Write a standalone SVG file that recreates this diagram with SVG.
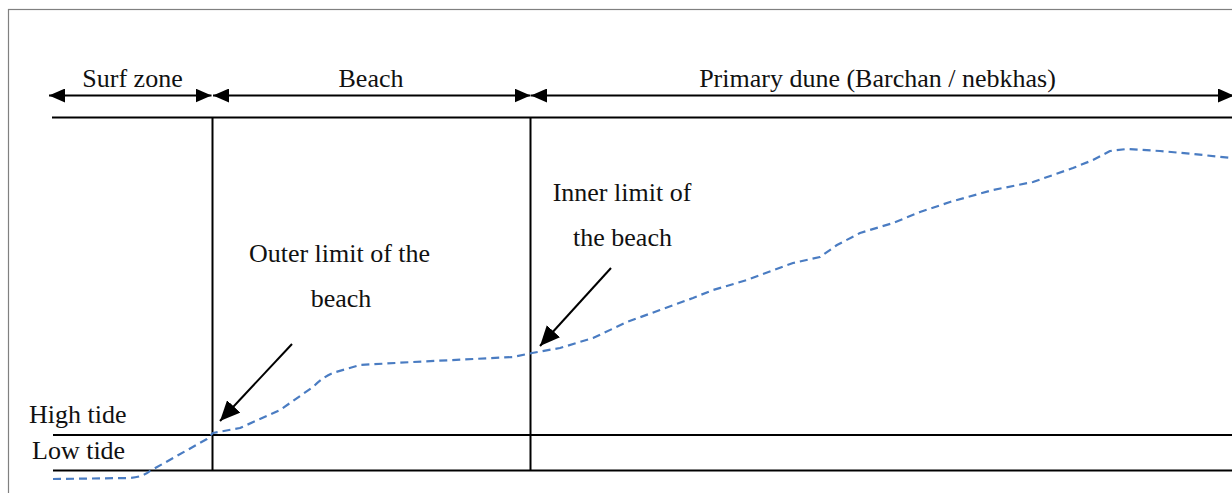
<svg xmlns="http://www.w3.org/2000/svg" width="1232" height="493" viewBox="0 0 1232 493">
<style>
text{font-family:"Liberation Serif","Times New Roman",serif;font-size:26px;fill:#111;}
.ln{stroke:#000;stroke-width:2;fill:none;}
.dim{stroke:#000;stroke-width:2.2;fill:none;}
.ptr{stroke:#000;stroke-width:2;fill:none;}
.prof{stroke:#4a7cc2;stroke-width:2.2;fill:none;stroke-dasharray:8 5;stroke-linejoin:round;}
</style>
<defs>
<marker id="hd" viewBox="0 0 16 14" refX="16" refY="7" markerWidth="16" markerHeight="14" markerUnits="userSpaceOnUse" orient="auto-start-reverse">
<path d="M0,0 L16,7 L0,14 Z" fill="#000"/>
</marker>
<marker id="ph" viewBox="0 0 20 18" refX="20" refY="9" markerWidth="20" markerHeight="18" markerUnits="userSpaceOnUse" orient="auto">
<path d="M0,0 L20,9 L0,18 Z" fill="#000"/>
</marker>
</defs>
<rect x="8.5" y="9.5" width="1240" height="500" fill="#fff" stroke="#808080" stroke-width="1.2"/>
<g id="grid">
<line class="ln" x1="52" y1="117.5" x2="1232" y2="117.5"/>
<line class="ln" x1="53" y1="435" x2="1232" y2="435"/>
<line class="ln" x1="53" y1="470.5" x2="1232" y2="470.5"/>
<line class="ln" x1="212.5" y1="117" x2="212.5" y2="471"/>
<line class="ln" x1="530.5" y1="117" x2="530.5" y2="471"/>
</g>
<g id="connectors">
<line class="dim" x1="49" y1="95.5" x2="211.5" y2="95.5" marker-start="url(#hd)" marker-end="url(#hd)"/>
<line class="dim" x1="213" y1="95.5" x2="530.5" y2="95.5" marker-start="url(#hd)" marker-end="url(#hd)"/>
<line class="dim" x1="531" y1="95.5" x2="1234" y2="95.5" marker-start="url(#hd)" marker-end="url(#hd)"/>
<line class="ptr" x1="292" y1="344" x2="220" y2="421" marker-end="url(#ph)"/>
<line class="ptr" x1="611" y1="268" x2="540" y2="346" marker-end="url(#ph)"/>
</g>
<g id="profile">
<path class="prof" d="M53,479 L130,478 Q143,477 150,471 L207,439 L213,433 L240,428 L280,410 L313,387 Q325,375 336,372 L360,365 L413,362 L513,357 L532,353 L560,348 L593,338 L627,322 L660,310 L693,298 L713,290 L747,280 L793,263 L820,257 L837,245 L860,233 L893,223 L920,212 L950,202 L993,190 L1033,182 L1073,168 L1093,160 L1110,151 L1127,149 L1160,151 L1193,154 L1232,158"/>
</g>
<g id="label-surf"><text x="132.5" y="87" text-anchor="middle">Surf zone</text></g>
<g id="label-beach"><text x="371" y="87" text-anchor="middle">Beach</text></g>
<g id="label-dune"><text x="877.5" y="87" text-anchor="middle">Primary dune (Barchan / nebkhas)</text></g>
<g id="label-inner"><text x="622" y="201" text-anchor="middle">Inner limit of</text><text x="622.5" y="246" text-anchor="middle">the beach</text></g>
<g id="label-outer"><text x="339.5" y="262" text-anchor="middle">Outer limit of the</text><text x="341" y="307" text-anchor="middle">beach</text></g>
<g id="label-high"><text x="29" y="423">High tide</text></g>
<g id="label-low"><text x="32" y="459">Low tide</text></g>
</svg>
